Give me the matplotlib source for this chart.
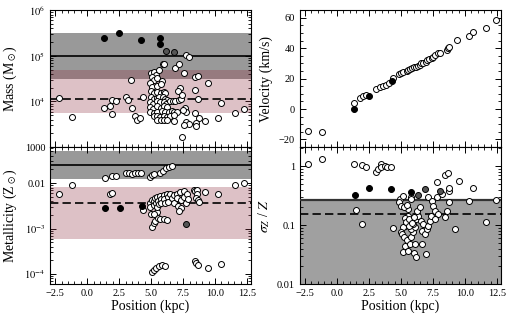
import matplotlib
matplotlib.use("Agg")
import matplotlib.pyplot as plt
from matplotlib.ticker import FixedLocator, FixedFormatter, MultipleLocator, LogLocator, NullFormatter

plt.rcParams["font.family"] = ["Liberation Serif", "DejaVu Serif"]
plt.rcParams["mathtext.fontset"] = "stix"

# ---- mass panel ----
mass_black_x = [1.35, 2.52, 4.22, 5.73, 5.73]
mass_black_y = [2.4e5, 3.1e5, 2.2e5, 2.4e5, 1.85e5]
mass_gray_x = [6.17, 6.80]
mass_gray_y = [1.3e5, 1.2e5]
mass_open_x = [-2.22, -1.17, 1.35, 1.82, 1.98, 2.23, 1.95, 3.44, 3.02, 3.17, 3.54, 3.70, 3.88, 4.14, 4.37,
               5.0, 5.2, 5.4, 5.1, 5.2, 5.45, 5.6, 5.95, 5.85, 4.95, 5.1, 5.45, 5.75,
               5.0, 5.2, 5.45, 5.75, 6.0, 6.1,
               5.0, 5.2, 5.45, 5.65, 5.9, 6.1, 6.25,
               4.95, 5.15, 5.45, 5.7, 6.0, 6.2, 6.5, 6.7, 6.9, 7.15, 7.3,
               4.95, 5.15, 5.45, 5.75, 6.0, 6.25,
               4.95, 5.2, 5.45, 5.85, 6.1, 6.4, 6.6, 6.8, 7.0,
               5.2, 5.45, 5.7, 6.0, 6.25, 6.5, 6.75,
               5.45, 5.75, 6.0, 6.25, 6.75,
               7.76, 7.99, 6.84, 7.21, 5.98, 7.55, 7.29, 7.08, 7.39, 8.46, 8.64, 8.46, 8.64, 9.45,
               10.49, 11.56, 12.29, 10.2, 9.24, 8.75, 8.51, 8.51, 7.75, 7.95, 7.6, 7.45, 7.63, 7.7,
               8.46, 7.5]
mass_open_y = [1.2e4, 4.6e3, 7.2e3, 7.8e3, 1.05e4, 1.0e4, 5.2e3, 2.9e4, 1.25e4, 1.1e4, 7.2e3, 4.8e3, 4.0e3, 4.3e3, 1.25e4,
               4.2e4, 4.4e4, 3.8e4, 3.4e4, 2.9e4, 3.3e4, 5.0e4, 6.6e4, 2.8e4, 2.5e4, 2.1e4, 2.2e4, 2.4e4,
               1.65e4, 1.5e4, 1.6e4, 1.55e4, 1.6e4, 1.5e4,
               1.25e4, 1.15e4, 1.2e4, 1.25e4, 1.25e4, 1.15e4, 1.05e4,
               9.5e3, 9.0e3, 1.0e4, 9.5e3, 9.5e3, 9.0e3, 1.0e4, 1.0e4, 1.0e4, 1.05e4, 1.15e4,
               7.5e3, 7.0e3, 7.8e3, 7.2e3, 7.8e3, 7.5e3,
               6.0e3, 5.6e3, 6.0e3, 6.2e3, 6.0e3, 6.0e3, 6.2e3, 6.0e3, 6.0e3,
               4.8e3, 4.7e3, 4.5e3, 4.7e3, 4.5e3, 4.8e3, 5.0e3,
               4.0e3, 4.0e3, 3.9e3, 4.0e3, 3.8e3,
               1.03e5, 9.2e4, 5.5e4, 6.7e4, 6.7e4, 4.2e4, 2.0e4, 1.7e4, 1.38e4, 3.5e4, 3.6e4, 1.8e4, 1.12e4, 2.5e4,
               9.3e3, 5.6e3, 6.7e3, 4.3e3, 3.8e3, 4.3e3, 3.4e3, 2.9e3, 3.6e3, 3.2e3, 3.0e3, 1.7e3, 7.1e3, 6.0e3,
               5.5e3, 6.5e3]
mass_band_gray = (3.1e4, 3.2e5)
mass_line = 1.0e5
mass_band_pink = (5.5e3, 4.9e4)
mass_dash = 1.15e4

# ---- metallicity panel ----
met_black_x = [1.38, 2.55, 4.25]
met_black_y = [2.8e-3, 2.8e-3, 3.2e-3]
met_gray_x = [7.76]
met_gray_y = [1.23e-3]
met_open_x = [1.38, 1.98, 2.29, 3.07, 3.28, 3.54, 3.75, 3.96, 4.22, 4.95, 5.10, 5.26, 5.68, 5.91, 6.17, 6.38, 6.64,
              -1.22, -2.21, 1.82, 1.93, 11.54, 12.29, 10.21, 9.22, 4.38,
              5.08, 5.21, 5.34, 5.52, 5.73, 5.99, 6.25, 4.98, 5.47, 5.20,
              5.08, 5.21, 5.37, 5.60, 5.86, 6.12, 8.41, 8.54, 8.65, 9.43, 10.50,
              4.95, 4.90, 5.05, 5.20, 5.21, 5.30, 5.35, 5.47, 5.50, 5.47, 5.60, 5.73, 5.75, 5.80, 5.99, 6.00,
              6.10, 6.25, 6.30, 6.35, 6.51, 6.60, 6.77, 6.80, 7.03, 7.00, 7.10, 7.29, 7.30, 7.35, 7.20, 7.55,
              7.60, 7.70, 7.81, 7.90, 8.33, 8.45, 8.59, 8.59, 8.50, 8.70, 8.75]
met_open_y = [0.0131, 0.0143, 0.0145, 0.0171, 0.0163, 0.0158, 0.0163, 0.0165, 0.0166, 0.0138, 0.0152, 0.0155, 0.0169,
              0.0187, 0.021, 0.0229, 0.0236,
              9.3e-3, 5.7e-3, 5.7e-3, 6.0e-3, 9.0e-3, 0.0103, 5.7e-3, 6.3e-3, 2.5e-3,
              1.1e-3, 1.3e-3, 1.5e-3, 1.67e-3, 1.65e-3, 1.6e-3, 1.57e-3, 2.05e-3, 2.35e-3, 2.1e-3,
              1.09e-4, 1.22e-4, 1.37e-4, 1.48e-4, 1.55e-4, 1.52e-4, 1.9e-4, 1.73e-4, 1.6e-4, 1.37e-4, 1.65e-4,
              3.6e-3, 3.0e-3, 4.2e-3, 4.0e-3, 3.3e-3, 4.6e-3, 3.7e-3, 5.0e-3, 4.1e-3, 3.0e-3, 3.5e-3, 5.2e-3, 4.4e-3,
              3.7e-3, 5.5e-3, 4.5e-3, 3.6e-3, 5.9e-3, 4.9e-3, 3.9e-3, 5.9e-3, 4.6e-3, 5.5e-3, 3.7e-3, 5.9e-3,
              4.6e-3, 3.2e-3, 6.3e-3, 4.3e-3, 2.9e-3, 2.4e-3, 6.6e-3, 5.0e-3, 3.6e-3, 5.9e-3, 4.4e-3, 7.0e-3,
              6.8e-3, 7.0e-3, 5.9e-3, 4.8e-3, 4.2e-3, 3.8e-3]
met_band_gray = (0.0123, 0.05)
met_line = 0.025
met_band_pink = (5.9e-4, 8.3e-3)
met_dash = 3.6e-3

# ---- velocity panel ----
vel_black_x = [1.35, 2.53, 4.30]
vel_black_y = [0.2, 8.3, 18.7]
vel_open_x = [-2.26, -1.16, 1.35, 1.82, 2.00, 2.27, 3.06, 3.32, 3.58, 3.85, 4.03, 4.38, 4.82, 5.03, 5.15,
              5.43, 5.55, 5.69, 5.85, 6.04, 6.17, 6.30, 6.45, 6.56, 6.75, 6.93, 7.05, 7.20, 7.40, 7.50,
              7.67, 7.88, 8.06, 8.59, 8.65, 8.78, 9.38, 10.30, 10.65, 11.62, 12.41]
vel_open_y = [-14.1, -15.2, 4.1, 7.2, 8.3, 9.4, 13.0, 14.3, 15.2, 15.9, 17.0, 20.2, 23.0, 23.9, 24.2,
              25.2, 25.8, 26.1, 26.9, 27.8, 27.6, 28.3, 29.2, 30.0, 30.3, 31.1, 31.9, 32.6, 33.3, 34.2,
              35.4, 36.5, 37.0, 39.1, 40.2, 40.9, 45.6, 47.8, 50.6, 53.5, 58.7]

# ---- sigma_Z / Z panel ----
sig_black_x = [1.40, 2.53, 4.24, 5.77]
sig_black_y = [0.32, 0.42, 0.41, 0.36]
sig_gray_x = [6.30, 6.88, 8.01]
sig_gray_y = [0.33, 0.41, 0.38]
sig_open_x = [-2.29, -1.16, 1.35, 1.92, 2.27, 3.06, 3.19, 3.40, 3.45, 3.72, 3.93, 4.19,
              7.80, 8.46, 8.64, 9.57, 10.62, 12.41, 10.30, 9.25, 11.68, 1.48, 1.92, 4.38, 5.77, 5.77,
              4.90, 4.82, 4.98, 5.16, 5.51, 5.56, 5.43, 5.30, 5.16, 4.98, 5.09, 5.24, 5.43, 5.30, 5.16,
              5.56, 5.69, 5.82, 5.96, 5.77, 6.09, 5.96, 6.14, 6.35, 6.22, 6.48, 6.56, 6.75, 6.61, 6.88,
              6.67, 6.09, 6.01, 6.17, 6.93, 7.01, 7.14, 7.27, 7.35, 7.14, 7.40, 7.54, 7.80, 7.67, 7.93,
              7.62, 8.19, 8.46, 8.59, 8.72, 8.72, 8.72, 5.30, 5.40, 5.60, 5.65, 5.85, 6.00, 5.25, 5.45]
sig_open_y = [1.08, 1.30, 1.08, 1.03, 0.97, 0.80, 0.88, 1.08, 0.97, 1.00, 0.98, 0.96,
              0.53, 0.70, 0.75, 0.56, 0.42, 0.27, 0.26, 0.086, 0.115, 0.18, 0.105, 0.09, 0.30, 0.28,
              0.275, 0.242, 0.213, 0.313, 0.187, 0.145, 0.119, 0.098, 0.092, 0.076, 0.071, 0.0625, 0.055,
              0.045, 0.035, 0.037, 0.048, 0.0625, 0.076, 0.086, 0.092, 0.105, 0.127, 0.145, 0.175, 0.20,
              0.119, 0.105, 0.081, 0.071, 0.048, 0.048, 0.034, 0.029, 0.033, 0.086, 0.098, 0.119, 0.145,
              0.294, 0.258, 0.213, 0.294, 0.175, 0.154, 0.127, 0.334, 0.135, 0.175, 0.242, 0.38, 0.43,
              0.13, 0.115, 0.125, 0.095, 0.11, 0.14, 0.20, 0.22]
sig_band_top = 0.265
sig_line = 0.265
sig_dash = 0.152

GRAY = "#999999"
PINK = (0.57, 0.2, 0.27)
ms = 4.3


def style(ax):
    ax.tick_params(which="both", direction="in", top=True, right=True, labelsize=7.5)
    ax.tick_params(which="major", length=4, width=0.7)
    ax.tick_params(which="minor", length=2, width=0.6)
    for s in ax.spines.values():
        s.set_linewidth(0.8)


def points(ax, x, y, face):
    ax.plot(x, y, "o", ms=ms, mfc=face, mec="black", mew=0.7, zorder=5)


fig = plt.figure(figsize=(5.11, 3.15), dpi=100)
ax_m = fig.add_axes([0.098, 0.533, 0.393, 0.435])
ax_z = fig.add_axes([0.098, 0.098, 0.393, 0.435], sharex=ax_m)
ax_v = fig.add_axes([0.587, 0.533, 0.393, 0.435])
ax_s = fig.add_axes([0.587, 0.098, 0.393, 0.435], sharex=ax_v)

# mass
ax_m.set_yscale("log")
ax_m.axhspan(*mass_band_gray, color=GRAY, lw=0, zorder=1)
ax_m.axhspan(*mass_band_pink, color=PINK, alpha=0.3, lw=0, zorder=2)
ax_m.axhline(mass_line, color="black", lw=1.2, zorder=3)
ax_m.axhline(mass_dash, color="black", lw=1.2, ls=(0, (5, 2.5)), zorder=3)
points(ax_m, mass_open_x, mass_open_y, "white")
points(ax_m, mass_gray_x, mass_gray_y, "#555555")
points(ax_m, mass_black_x, mass_black_y, "black")
ax_m.set_ylim(1e3, 1e6)
ax_m.yaxis.set_major_locator(FixedLocator([1e3, 1e4, 1e5, 1e6]))
ax_m.yaxis.set_major_formatter(FixedFormatter(["1000", "$10^4$", "$10^5$", "$10^6$"]))
ax_m.yaxis.set_minor_locator(LogLocator(base=10, subs=range(2, 10)))
ax_m.yaxis.set_minor_formatter(NullFormatter())
ax_m.set_ylabel(r"Mass (M$_\odot$)", fontsize=10)
plt.setp(ax_m.get_xticklabels(), visible=False)

# metallicity
ax_z.set_yscale("log")
ax_z.axhspan(*met_band_gray, color=GRAY, lw=0, zorder=1)
ax_z.axhspan(*met_band_pink, color=PINK, alpha=0.3, lw=0, zorder=2)
ax_z.axhline(met_line, color="black", lw=1.2, zorder=3)
ax_z.axhline(met_dash, color="black", lw=1.2, ls=(0, (5, 2.5)), zorder=3)
points(ax_z, met_open_x, met_open_y, "white")
points(ax_z, met_gray_x, met_gray_y, "#555555")
points(ax_z, met_black_x, met_black_y, "black")
ax_z.set_ylim(6e-5, 0.062)
ax_z.yaxis.set_major_locator(FixedLocator([1e-4, 1e-3, 1e-2]))
ax_z.yaxis.set_major_formatter(FixedFormatter(["$10^{-4}$", "$10^{-3}$", "0.01"]))
ax_z.yaxis.set_minor_locator(LogLocator(base=10, subs=range(2, 10)))
ax_z.yaxis.set_minor_formatter(NullFormatter())
ax_z.set_ylabel(r"Metallicity (Z$_\odot$)", fontsize=10)
ax_z.set_xlabel("Position (kpc)", fontsize=10, labelpad=1)
ax_z.set_xlim(-2.9, 12.8)
ax_z.xaxis.set_major_locator(MultipleLocator(2.5))
ax_z.xaxis.set_minor_locator(MultipleLocator(0.5))

# velocity
points(ax_v, vel_open_x, vel_open_y, "white")
points(ax_v, vel_black_x, vel_black_y, "black")
ax_v.set_ylim(-25, 65)
ax_v.yaxis.set_major_locator(MultipleLocator(20))
ax_v.yaxis.set_minor_locator(MultipleLocator(5))
ax_v.set_ylabel("Velocity (km/s)", fontsize=10)
plt.setp(ax_v.get_xticklabels(), visible=False)

# sigma
ax_s.set_yscale("log")
ax_s.axhspan(1e-3, sig_band_top, color="#a0a0a0", lw=0, zorder=1)
ax_s.axhline(sig_line, color="#333333", lw=1.6, zorder=3)
ax_s.axhline(sig_dash, color="black", lw=1.2, ls=(0, (5, 2.5)), zorder=3)
points(ax_s, sig_open_x, sig_open_y, "white")
points(ax_s, sig_gray_x, sig_gray_y, "#555555")
points(ax_s, sig_black_x, sig_black_y, "black")
ax_s.set_ylim(0.01, 2.1)
ax_s.yaxis.set_major_locator(FixedLocator([0.01, 0.1, 1]))
ax_s.yaxis.set_major_formatter(FixedFormatter(["0.01", "0.1", "1"]))
ax_s.yaxis.set_minor_locator(LogLocator(base=10, subs=range(2, 10)))
ax_s.yaxis.set_minor_formatter(NullFormatter())
ax_s.set_ylabel(r"$\sigma_Z$ / $Z$", fontsize=10)
ax_s.set_xlabel("Position (kpc)", fontsize=10, labelpad=1)
ax_s.set_xlim(-2.9, 12.8)
ax_s.xaxis.set_major_locator(MultipleLocator(2.5))
ax_s.xaxis.set_minor_locator(MultipleLocator(0.5))

for a in (ax_m, ax_z, ax_v, ax_s):
    style(a)

fig.savefig("out.png", dpi=100)
